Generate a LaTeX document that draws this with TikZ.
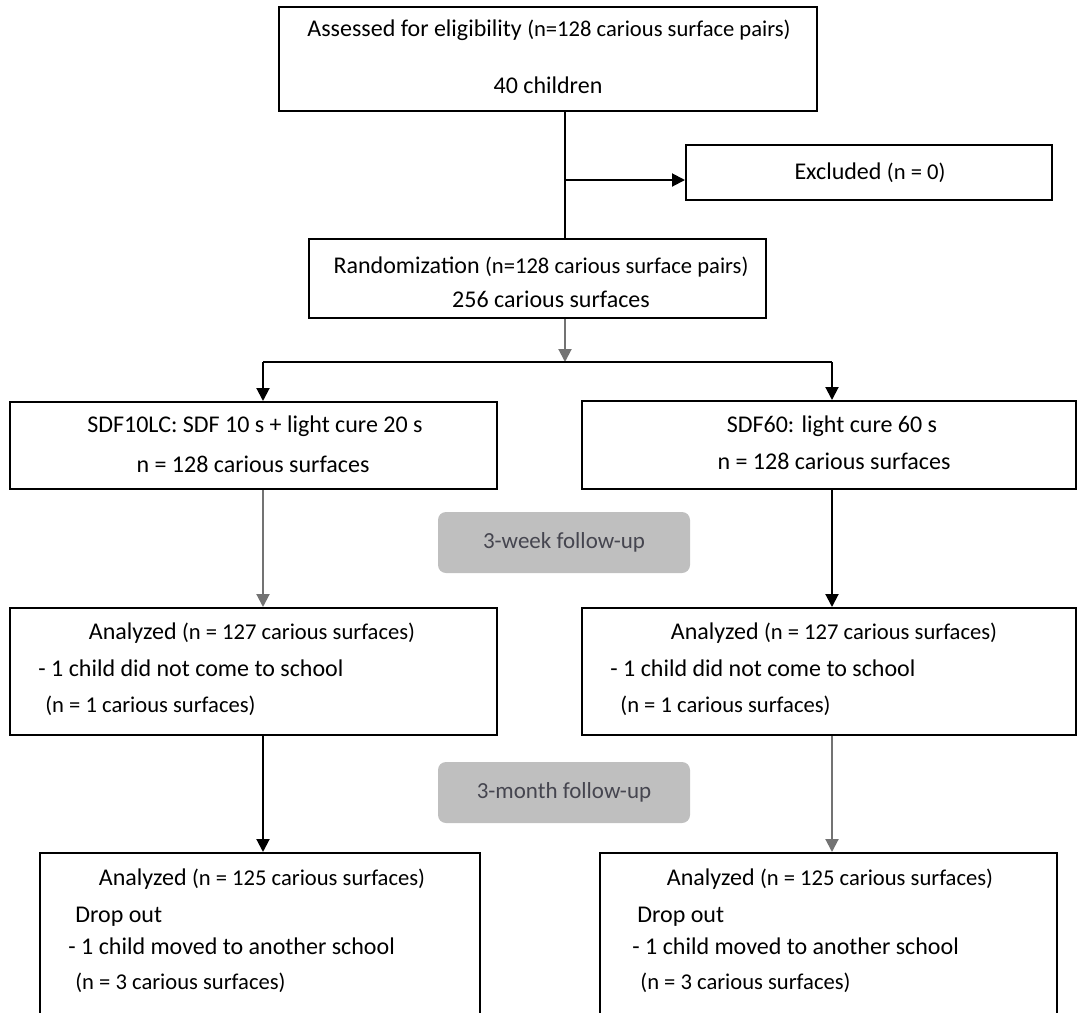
\documentclass[tikz,border=0pt]{standalone}
\usepackage{fontspec}
\setmainfont{Carlito}
\usepackage{tikz}
\usetikzlibrary{arrows.meta,positioning}

\definecolor{fupgrey}{HTML}{BFBFBF}
\definecolor{fuptext}{HTML}{45454F}

\tikzset{
  box/.style={draw, line width=1pt, rectangle, inner sep=0pt},
  fupbox/.style={fill=fupgrey, rounded corners=4pt, inner sep=0pt,
    minimum width=126pt, minimum height=30.5pt,
    text=fuptext, font=\fontsize{11.5}{13}\selectfont},
  txt/.style={inner sep=0pt, anchor=base},
  ltxt/.style={inner sep=0pt, anchor=base west},
  conn/.style={line width=1pt, ->},
  greyconn/.style={line width=1pt, draw=black!55, ->},
}

\newcommand{\sm}[1]{{\fontsize{11.3}{13}\selectfont #1}}

\begin{document}
\begin{tikzpicture}[x=0.5pt, y=-0.5pt, >={Triangle[width=6.5pt,length=6.5pt]},
    font=\fontsize{12}{14}\selectfont]
    \useasboundingbox (0,0) rectangle (1078,1013);
    \clip (0,0) rectangle (1078,1013);

    % boxes
    \node[box, minimum width=269pt, minimum height=52pt] at (548,59) (top) {};
    \node[box, minimum width=183pt, minimum height=27.5pt] at (869,172.5) (excl) {};
    \node[box, minimum width=228.5pt, minimum height=39.5pt] at (537.5,278.5) (rand) {};
    \node[box, minimum width=243.5pt, minimum height=43.5pt] at (253.5,445.5) (sdfa) {};
    \node[box, minimum width=247pt, minimum height=44pt] at (829,445) (sdfb) {};
    \node[box, minimum width=243.5pt, minimum height=63.5pt] at (253.5,671.5) (ana) {};
    \node[box, minimum width=247pt, minimum height=63.5pt] at (829,671.5) (anb) {};
    \node[box, minimum width=220pt, minimum height=100pt] at (260,953) (dropa) {};
    \node[box, minimum width=228.5pt, minimum height=100pt] at (828.5,953) (dropb) {};

    \node[fupbox] at (564,542.5) (week) {3-week follow-up};
    \node[fupbox] at (564,792.5) (month) {3-month follow-up};

    % texts
    \node[txt] at (549,36) (topa) {Assessed for eligibility \sm{(n=128 carious surface pairs)}};
    \node[txt] at (548,93) (topb) {40 children};
    \node[txt] at (870,179) (exclt) {Excluded \sm{(n = 0)}};
    \node[txt] at (541,273) (randa) {Randomization \sm{(n=128 carious surface pairs)}};
    \node[txt] at (551,307) (randb) {256 carious surfaces};
    \node[txt] at (255,432) (sdfaa) {SDF10LC: SDF 10 s + light cure 20 s};
    \node[txt] at (253,472) (sdfab) {n = 128 carious surfaces};
    \node[txt] at (832,432) (sdfba) {SDF60: light cure 60 s};
    \node[txt] at (834,469) (sdfbb) {n = 128 carious surfaces};

    \node[txt] at (252,639) (anaa) {Analyzed \sm{(n = 127 carious surfaces)}};
    \node[ltxt] at (38,676) (anab) {- 1 child did not come to school};
    \node[ltxt] at (45,712) (anac) {\sm{(n = 1 carious surfaces)}};
    \node[txt] at (834,639) (anba) {Analyzed \sm{(n = 127 carious surfaces)}};
    \node[ltxt] at (610,676) (anbb) {- 1 child did not come to school};
    \node[ltxt] at (620,712) (anbc) {\sm{(n = 1 carious surfaces)}};

    \node[txt] at (262,885) (dropaa) {Analyzed \sm{(n = 125 carious surfaces)}};
    \node[ltxt] at (75,922) (dropab) {Drop out};
    \node[ltxt] at (68,954) (dropac) {- 1 child moved to another school};
    \node[ltxt] at (75,989) (dropad) {\sm{(n = 3 carious surfaces)}};
    \node[txt] at (830,885) (dropba) {Analyzed \sm{(n = 125 carious surfaces)}};
    \node[ltxt] at (637,922) (dropbb) {Drop out};
    \node[ltxt] at (632,954) (dropbc) {- 1 child moved to another school};
    \node[ltxt] at (640,989) (dropbd) {\sm{(n = 3 carious surfaces)}};

    % connectors
    \coordinate (spine) at (565,180);
    \coordinate (split) at (565,362);
    \coordinate (lft) at (263,362);
    \coordinate (rgt) at (832,362);

    \draw[line width=1pt] (top.south -| spine) -- (rand.north -| spine);
    \draw[conn] (spine) -- (spine -| excl.west);
    \draw[greyconn] (rand.south -| split) -- (split);
    \draw[line width=1pt] (lft) -- (rgt);
    \draw[conn] (lft) -- (lft |- sdfa.north);
    \draw[conn] (rgt) -- (rgt |- sdfb.north);
    \draw[greyconn] (sdfa.south -| lft) -- (ana.north -| lft);
    \draw[conn] (sdfb.south -| rgt) -- (anb.north -| rgt);
    \draw[conn] (ana.south -| lft) -- (dropa.north -| lft);
    \draw[greyconn] (anb.south -| rgt) -- (dropb.north -| rgt);
\end{tikzpicture}
\end{document}
